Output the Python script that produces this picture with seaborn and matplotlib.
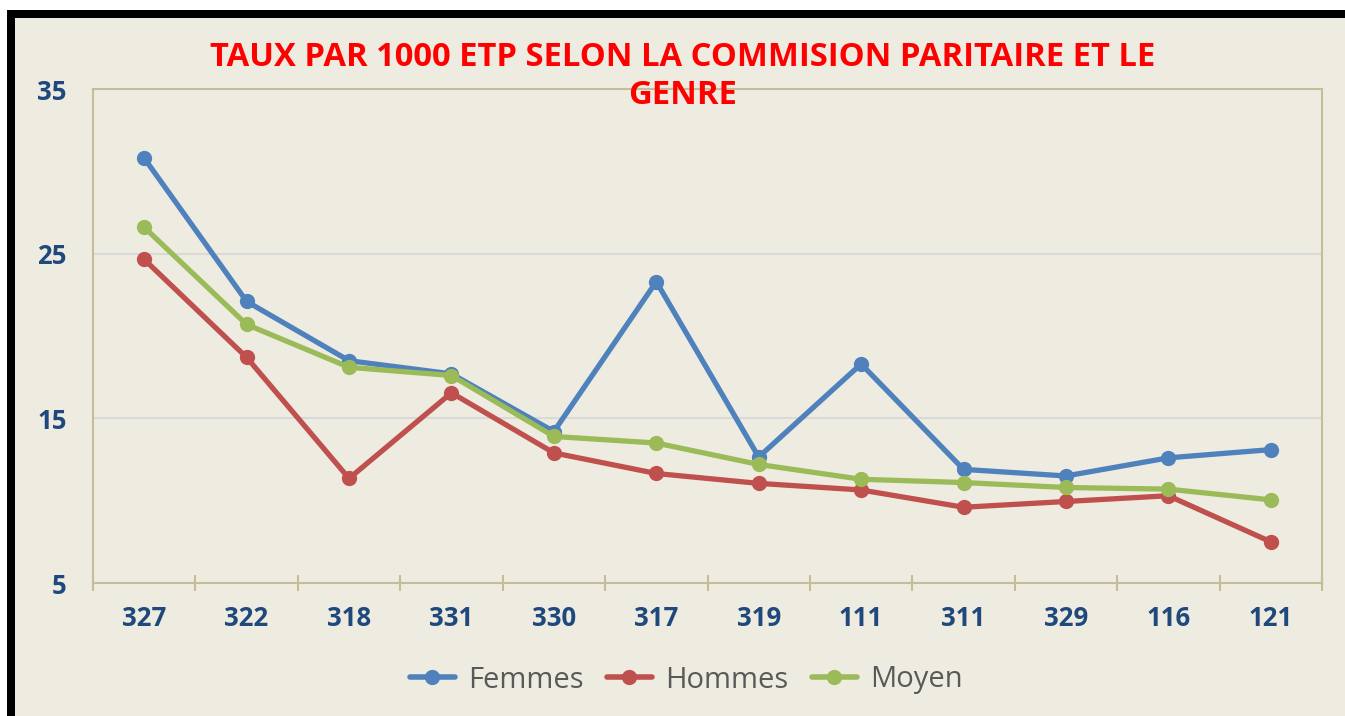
import matplotlib
matplotlib.use("Agg")
import matplotlib.pyplot as plt
from matplotlib.patches import Rectangle
from matplotlib.ticker import FixedLocator
import seaborn as sns
import pandas as pd

# Commission paritaire codes (x categories)
categories = ["327", "322", "318", "331", "330", "317", "319", "111", "311", "329", "116", "121"]

# Rate per 1000 FTE
femmes = [30.8, 22.1, 18.5, 17.7, 14.2, 23.3, 12.65, 18.3, 11.9, 11.5, 12.6, 13.1]
hommes = [24.65, 18.7, 11.35, 16.55, 12.9, 11.65, 11.05, 10.65, 9.6, 9.95, 10.3, 7.5]
moyen = [26.6, 20.7, 18.1, 17.6, 13.9, 13.5, 12.2, 11.3, 11.1, 10.8, 10.7, 10.05]

series_names = ["Femmes", "Hommes", "Moyen"]
y_ticks = [5, 15, 25, 35]
title = "TAUX PAR 1000 ETP SELON LA COMMISION PARITAIRE ET LE\nGENRE"

colors = ["#4F81BD", "#C0504D", "#9BBB59"]
bg = "#EEECE1"
tan = "#C4BD97"
label_blue = "#1F497D"

frames = []
for name, vals in zip(series_names, [femmes, hommes, moyen]):
    frames.append(pd.DataFrame({"cp": categories, "pos": range(len(categories)),
                                "taux": vals, "serie": name}))
df = pd.concat(frames, ignore_index=True)

sns.set_theme(style="white")
plt.rcParams["font.family"] = ["Open Sans", "DejaVu Sans"]

W, H = 1345, 716
fig = plt.figure(figsize=(W / 100, H / 100), dpi=100, facecolor="white")

# Framed chart area: beige fill with thick black left/top border
fig.patches.append(Rectangle((7 / W, 0), 1 - 7 / W, 1 - 10 / H, transform=fig.transFigure,
                             facecolor=bg, edgecolor="none", zorder=-3))
fig.patches.append(Rectangle((7 / W, 0), 8 / W, 1 - 10 / H, transform=fig.transFigure,
                             facecolor="black", edgecolor="none", zorder=-2))
fig.patches.append(Rectangle((7 / W, 1 - 18 / H), 1 - 7 / W, 8 / H, transform=fig.transFigure,
                             facecolor="black", edgecolor="none", zorder=-2))

ax = fig.add_axes([93 / W, (H - 583) / H, (1322 - 93) / W, (583 - 89) / H])
ax.set_facecolor(bg)

sns.lineplot(data=df, x="pos", y="taux", hue="serie", palette=colors, marker="o",
             markersize=11, markeredgewidth=0, linewidth=3.8, ax=ax, legend=True,
             zorder=3)

ax.set_xlim(-0.5, len(categories) - 0.5)
ax.set_ylim(5, 35)
ax.set_yticks(y_ticks)
ax.set_yticklabels([str(t) for t in y_ticks])
ax.set_xticks(range(len(categories)))
ax.set_xticklabels(categories)
ax.xaxis.set_minor_locator(FixedLocator([i - 0.5 for i in range(len(categories) + 1)]))
ax.tick_params(axis="x", which="major", length=0, pad=16)
ax.tick_params(axis="x", which="minor", direction="inout", length=12, width=1.5, color=tan,
               bottom=True)
ax.tick_params(axis="y", length=0, pad=19)
for lab in ax.get_xticklabels() + ax.get_yticklabels():
    lab.set_fontsize(18.5)
    lab.set_fontweight("bold")
    lab.set_color(label_blue)

ax.set_xlabel("")
ax.set_ylabel("")
ax.grid(axis="y", color="#D9D9D9", linewidth=1.5, zorder=0)
ax.grid(axis="x", visible=False)
ax.set_axisbelow(True)
for sp in ax.spines.values():
    sp.set_visible(True)
    sp.set_color(tan)
    sp.set_linewidth(1.5)

handles, labels = ax.get_legend_handles_labels()
ax.legend_.remove()
for h in handles:
    h.set_linewidth(4)
    h.set_markersize(11)
fig.legend(handles, labels, loc="center", bbox_to_anchor=(686 / W, 36 / H), ncol=3,
           frameon=False, fontsize=21, handlelength=1.55, handletextpad=0.45,
           columnspacing=0.8, labelcolor="#595959")

fig.text(683 / W, 1 - 76 / H, title, ha="center", va="center", color="#FF0000",
         fontsize=23.6, fontweight="bold", linespacing=1.2)

fig.savefig("out.png", dpi=100, facecolor="white")
